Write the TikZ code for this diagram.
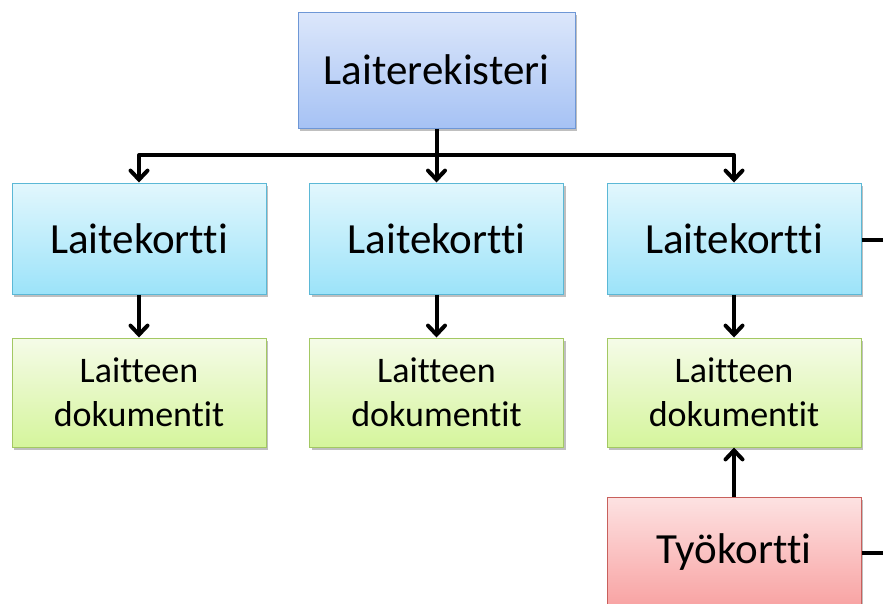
\documentclass[tikz,border=0pt]{standalone}
\usepackage{fontspec}
\setmainfont{Carlito}[Ligatures={NoCommon,NoContextual}]
\usetikzlibrary{arrows.meta,shadows}
\definecolor{regTop}{HTML}{DCE7FB}
\definecolor{regBot}{HTML}{A6C2F4}
\definecolor{regEdge}{HTML}{6E97D6}
\definecolor{cardTop}{HTML}{E2F7FD}
\definecolor{cardBot}{HTML}{9CE3F9}
\definecolor{cardEdge}{HTML}{5BB8D6}
\definecolor{docTop}{HTML}{F5FBE8}
\definecolor{docBot}{HTML}{D5F59C}
\definecolor{docEdge}{HTML}{A3C863}
\definecolor{workTop}{HTML}{FDE2E2}
\definecolor{workBot}{HTML}{F8A2A2}
\definecolor{workEdge}{HTML}{C8605C}
\tikzset{
  boxbase/.style={rectangle, line width=1pt, align=center, inner sep=0pt,
    drop shadow={shadow xshift=2pt, shadow yshift=-3pt, opacity=0.25, fill=black}},
  regbox/.style={boxbase, draw=regEdge, top color=regTop, bottom color=regBot,
    minimum width=277pt, minimum height=116pt, font=\fontsize{43}{50}\selectfont},
  cardbox/.style={boxbase, draw=cardEdge, top color=cardTop, bottom color=cardBot,
    minimum width=254pt, minimum height=111pt, font=\fontsize{43}{50}\selectfont},
  docbox/.style={boxbase, draw=docEdge, top color=docTop, bottom color=docBot,
    minimum width=254pt, minimum height=109pt, font=\fontsize{36}{44}\selectfont},
  workbox/.style={boxbase, draw=workEdge, top color=workTop, bottom color=workBot,
    minimum width=254pt, minimum height=111pt, font=\fontsize{43}{50}\selectfont},
  conn/.style={line width=4pt, black, line join=round},
  arr/.style={conn, -{Straight Barb[length=9pt,width=17pt,line cap=round]}}
}
\begin{document}
\begin{tikzpicture}[x=1pt,y=-1pt]
  \useasboundingbox (0,0) rectangle (883,603);
  \clip (0,0) rectangle (883,603);
  \fill[white] (0,0) rectangle (883,603);

  % register at the top
  \node[regbox] (reg) at (436.5,70) {Laiterekisteri};

  % device cards
  \node[cardbox] (c1) at (139,238.5) {Laitekortti};
  \node[cardbox] (c2) at (436.5,238.5) {Laitekortti};
  \node[cardbox] (c3) at (734,238.5) {Laitekortti};

  % device documents
  \node[docbox] (d1) at (139,392.5) {Laitteen\\dokumentit};
  \node[docbox] (d2) at (436.5,392.5) {Laitteen\\dokumentit};
  \node[docbox] (d3) at (734,392.5) {Laitteen\\dokumentit};

  % work card
  \node[workbox] (w) at (734,552.5) {Työkortti};

  % distribution bus from the register to the cards
  \coordinate (bus) at (436.5,155);
  \draw[conn] (reg.south) -- (bus);
  \draw[arr] (bus) -| (c1.north);
  \draw[arr] (bus) -- (c2.north);
  \draw[arr] (bus) -| (c3.north);

  % cards to documents
  \draw[arr] (c1.south) -- (d1.north);
  \draw[arr] (c2.south) -- (d2.north);
  \draw[arr] (c3.south) -- (d3.north);

  % work card to documents
  \draw[arr] (w.north) -- (d3.south);

  % lines leaving to the right
  \coordinate (outc) at (883,240);
  \coordinate (outw) at (883,553);
  \draw[conn] (c3.east |- outc) -- (outc);
  \draw[conn] (w.east |- outw) -- (outw);
\end{tikzpicture}
\end{document}
